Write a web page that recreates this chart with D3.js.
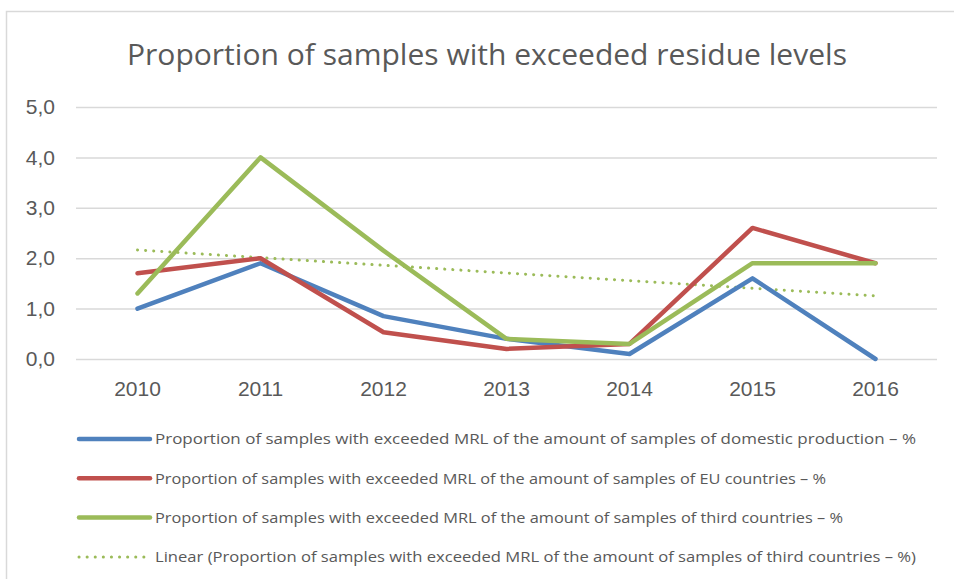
<!DOCTYPE html>
<html>
<head>
<meta charset="utf-8">
<script src="https://cdn.jsdelivr.net/npm/d3@7"></script>
<style>
  body { margin: 0; background: #fff; }
  svg { font-family: "Open Sans", "Liberation Sans", sans-serif; }
</style>
</head>
<body>
<svg width="954" height="579"></svg>
<script>
const years = ["2010", "2011", "2012", "2013", "2014", "2015", "2016"];
const domestic = [1.0, 1.9, 0.85, 0.4, 0.1, 1.6, 0.0];
const euCountries = [1.7, 2.0, 0.53, 0.2, 0.3, 2.6, 1.9];
const thirdCountries = [1.3, 4.0, 2.15, 0.4, 0.3, 1.9, 1.9];
const yTicks = [0, 1, 2, 3, 4, 5];
const legendLabels = [
  "Proportion of samples with exceeded MRL of the amount of samples of domestic production – %",
  "Proportion of samples with exceeded MRL of the amount of samples of EU countries – %",
  "Proportion of samples with exceeded MRL of the amount of samples of third countries – %",
  "Linear (Proportion of samples with exceeded MRL of the amount of samples of third countries – %)"
];

const svg = d3.select("svg"),
    width = +svg.attr("width"),
    height = +svg.attr("height");

const margin = {left: 76, right: 17, top: 107, bottom: 220};

// chart frame
svg.append("rect")
    .attr("x", 6.5).attr("y", 11.5)
    .attr("width", width + 10).attr("height", height)
    .attr("fill", "none")
    .attr("stroke", "#d9d9d9")
    .attr("stroke-width", 1.5);

svg.append("text")
    .attr("x", 487).attr("y", 65)
    .attr("text-anchor", "middle")
    .attr("fill", "#595959")
    .style("font-size", "30px")
    .attr("textLength", 720)
    .attr("lengthAdjust", "spacingAndGlyphs")
    .text("Proportion of samples with exceeded residue levels");

const x = d3.scaleBand()
    .domain(years)
    .range([margin.left, width - margin.right]);

const y = d3.scaleLinear()
    .domain([0, 5])
    .range([359, margin.top]);

const fmt = d => d3.format(".1f")(d).replace(".", ",");

// gridlines + y labels
const yAxis = svg.append("g")
    .attr("transform", "translate(" + margin.left + ",0)")
    .call(d3.axisLeft(y).tickValues(yTicks).tickFormat(fmt)
        .tickSize(-(width - margin.right - margin.left)).tickPadding(21));
yAxis.select(".domain").remove();
yAxis.selectAll("line").attr("stroke", "#d9d9d9").attr("stroke-width", 1.5);
yAxis.selectAll("text").attr("fill", "#595959").style("font-size", "21px");

const xAxis = svg.append("g")
    .attr("transform", "translate(0," + y(0) + ")")
    .call(d3.axisBottom(x).tickSize(0).tickPadding(22));
xAxis.select(".domain").remove();
xAxis.selectAll("text").attr("fill", "#595959").style("font-size", "21px");

// linear trend for third countries
const idx = thirdCountries.map((d, i) => i + 1);
const mx = d3.mean(idx), my = d3.mean(thirdCountries);
const slope = d3.sum(idx, (xi, i) => (xi - mx) * (thirdCountries[i] - my)) /
    d3.sum(idx, xi => (xi - mx) * (xi - mx));
const trend = idx.map(xi => my + slope * (xi - mx));

const series = [
  {name: legendLabels[0], values: domestic, color: "#4f81bd", dotted: false},
  {name: legendLabels[1], values: euCountries, color: "#c0504d", dotted: false},
  {name: legendLabels[2], values: thirdCountries, color: "#9bbb59", dotted: false},
  {name: legendLabels[3], values: trend, color: "#9bbb59", dotted: true}
];

const line = d3.line()
    .x((d, i) => x(years[i]) + x.bandwidth() / 2)
    .y(d => y(d));

const drawOrder = [3, 0, 1, 2];
svg.append("g")
    .selectAll("path")
    .data(drawOrder.map(i => series[i]))
    .enter().append("path")
    .attr("d", d => line(d.values))
    .attr("fill", "none")
    .attr("stroke", d => d.color)
    .attr("stroke-width", d => d.dotted ? 3 : 4.5)
    .attr("stroke-linejoin", "round")
    .attr("stroke-linecap", "round")
    .attr("stroke-dasharray", d => d.dotted ? "0.1 8" : null);

const legendWidths = [761, 671, 688, 761];
const legend = svg.append("g")
    .selectAll("g")
    .data(series)
    .enter().append("g")
    .attr("transform", (d, i) => "translate(78," + (439 + i * 39.3) + ")");

legend.append("line")
    .attr("x1", 1).attr("x2", d => d.dotted ? 69 : 72)
    .attr("stroke", d => d.color)
    .attr("stroke-width", d => d.dotted ? 3 : 4.5)
    .attr("stroke-linecap", "round")
    .attr("stroke-dasharray", d => d.dotted ? "0.1 8" : null);

legend.append("text")
    .attr("x", 77)
    .attr("dy", "0.35em")
    .attr("fill", "#595959")
    .style("font-size", "15px")
    .attr("textLength", (d, i) => legendWidths[i])
    .attr("lengthAdjust", "spacingAndGlyphs")
    .text(d => d.name);
</script>
</body>
</html>
